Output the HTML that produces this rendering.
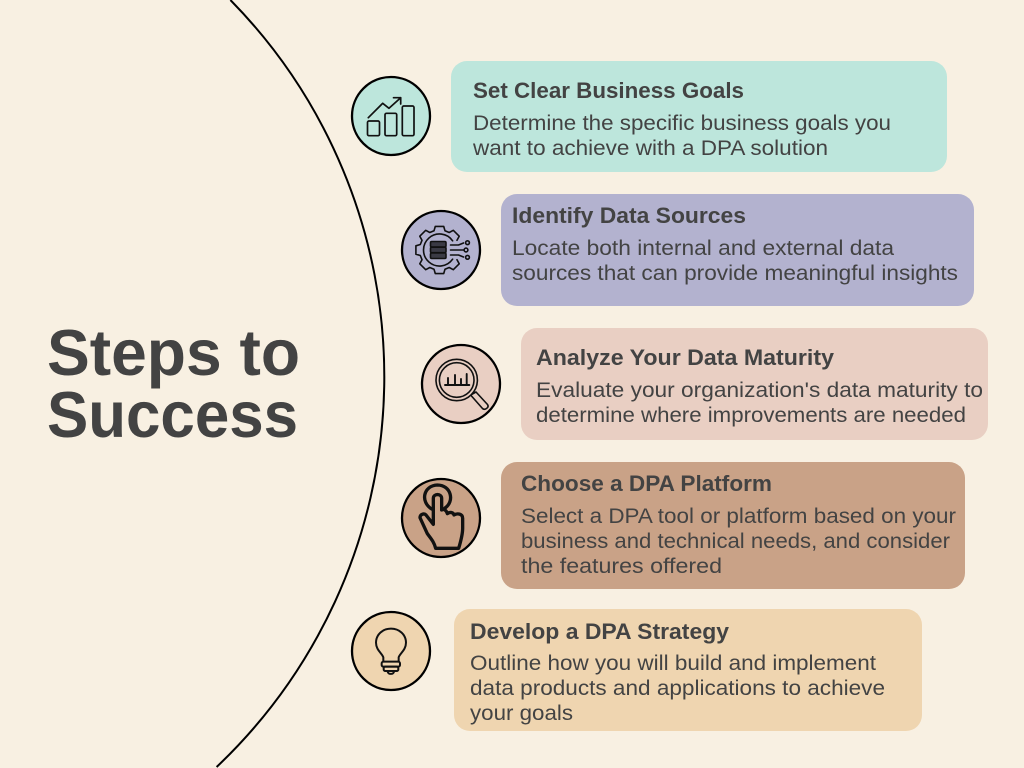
<!DOCTYPE html>
<html lang="en">
<head>
<meta charset="utf-8">
<title>Steps to Success</title>
<style>
html,body{margin:0;padding:0;width:1024px;height:768px;overflow:hidden;background:#F8F0E2}
svg{display:block;overflow:hidden}
text{font-family:"Liberation Sans",sans-serif;fill:#434343}
.h{font-size:22.5px;font-weight:700}
.b{font-size:21.5px}
.t{font-size:65px;font-weight:700}
.c{stroke:#000;stroke-width:2.3}
</style>
</head>
<body>
<svg width="1024" height="768" viewBox="0 0 1024 768" xmlns="http://www.w3.org/2000/svg">
<rect width="1024" height="768" fill="#F8F0E2"/>
<path d="M230.4 0A538 538 0 0 1 216.6 767" fill="none" stroke="#000" stroke-width="2"/>
<text class="t" x="47" y="375" textLength="253" lengthAdjust="spacingAndGlyphs">Steps to</text>
<text class="t" x="47" y="437" textLength="251" lengthAdjust="spacingAndGlyphs">Success</text>

<rect x="451" y="61" width="496" height="111" rx="16" fill="#BDE6DC"/>
<rect x="501" y="194" width="473" height="112" rx="16" fill="#B3B2CF"/>
<rect x="521" y="328" width="467" height="112" rx="16" fill="#E9CFC3"/>
<rect x="501" y="462" width="464" height="127" rx="16" fill="#C9A287"/>
<rect x="454" y="609" width="468" height="122" rx="16" fill="#EFD5B0"/>

<text class="h" x="473" y="98" textLength="271" lengthAdjust="spacingAndGlyphs">Set Clear Business Goals</text>
<text class="b" x="473" y="130" textLength="418" lengthAdjust="spacingAndGlyphs">Determine the specific business goals you</text>
<text class="b" x="473" y="155" textLength="355" lengthAdjust="spacingAndGlyphs">want to achieve with a DPA solution</text>

<text class="h" x="512" y="223" textLength="234" lengthAdjust="spacingAndGlyphs">Identify Data Sources</text>
<text class="b" x="512" y="255" textLength="382" lengthAdjust="spacingAndGlyphs">Locate both internal and external data</text>
<text class="b" x="512" y="280" textLength="446" lengthAdjust="spacingAndGlyphs">sources that can provide meaningful insights</text>

<text class="h" x="536" y="365" textLength="298" lengthAdjust="spacingAndGlyphs">Analyze Your Data Maturity</text>
<text class="b" x="536" y="397" textLength="447" lengthAdjust="spacingAndGlyphs">Evaluate your organization's data maturity to</text>
<text class="b" x="536" y="422" textLength="430" lengthAdjust="spacingAndGlyphs">determine where improvements are needed</text>

<text class="h" x="521" y="491" textLength="251" lengthAdjust="spacingAndGlyphs">Choose a DPA Platform</text>
<text class="b" x="521" y="523" textLength="435" lengthAdjust="spacingAndGlyphs">Select a DPA tool or platform based on your</text>
<text class="b" x="521" y="548" textLength="429" lengthAdjust="spacingAndGlyphs">business and technical needs, and consider</text>
<text class="b" x="521" y="573" textLength="201" lengthAdjust="spacingAndGlyphs">the features offered</text>

<text class="h" x="470" y="639" textLength="259" lengthAdjust="spacingAndGlyphs">Develop a DPA Strategy</text>
<text class="b" x="470" y="670" textLength="406" lengthAdjust="spacingAndGlyphs">Outline how you will build and implement</text>
<text class="b" x="470" y="695" textLength="415" lengthAdjust="spacingAndGlyphs">data products and applications to achieve</text>
<text class="b" x="470" y="720" textLength="103" lengthAdjust="spacingAndGlyphs">your goals</text>

<circle class="c" cx="391" cy="116" r="39" fill="#BDE6DC"/>
<circle class="c" cx="441" cy="250" r="39" fill="#B3B2CF"/>
<circle class="c" cx="461" cy="384" r="39" fill="#E9CFC3"/>
<circle class="c" cx="441" cy="518" r="39" fill="#C9A287"/>
<circle class="c" cx="391" cy="651" r="39" fill="#EFD5B0"/>

<!-- chart icon -->
<g fill="none" stroke="#111" stroke-width="1.7" stroke-linecap="round" stroke-linejoin="round">
<rect x="367.5" y="121" width="12" height="14.7" rx="1.5"/>
<rect x="385" y="113.3" width="11.7" height="22.4" rx="1.5"/>
<rect x="402.3" y="106" width="11.7" height="29.7" rx="1.5"/>
<path d="M368.3 117.7L382.7 103.3L389 108.3L400.7 97.7M393.5 97.7H400.7V104"/>
</g>

<!-- gear and data icon -->
<g transform="translate(439.5 250)" fill="none" stroke="#111" stroke-width="1.6" stroke-linecap="round" stroke-linejoin="round">
<polyline points="17.5,-9.7 19.7,-13.8 13.8,-19.7 9.7,-17.5 5.5,-19.2 4.2,-23.6 -4.2,-23.6 -5.5,-19.2 -9.7,-17.5 -13.8,-19.7 -19.7,-13.8 -17.5,-9.7 -19.2,-5.5 -23.6,-4.2 -23.6,4.2 -19.2,5.5 -17.5,9.7 -19.7,13.8 -13.8,19.7 -9.7,17.5 -5.5,19.2 -4.2,23.6 4.2,23.6 5.5,19.2 9.7,17.5 13.8,19.7 19.7,13.8 17.5,9.7"/>
<path d="M13.1-9.2A16 16 0 1 0 13.1 9.2"/>
<rect x="-9" y="-8.5" width="15.5" height="5.5" rx="1.2" fill="#3a3a44"/>
<rect x="-9" y="-2.8" width="15.5" height="5.5" rx="1.2" fill="#3a3a44"/>
<rect x="-9" y="3" width="15.5" height="5.5" rx="1.2" fill="#3a3a44"/>
<path d="M11-5H19L24-7M11 0H24M11 5H19L24 7"/>
<circle cx="28" cy="-7.3" r="1.9"/>
<circle cx="26.5" cy="0" r="1.9"/>
<circle cx="28" cy="7.3" r="1.9"/>
</g>

<!-- magnifier icon -->
<g fill="none" stroke="#111" stroke-width="1.6" stroke-linecap="round" stroke-linejoin="round">
<circle cx="456.7" cy="380" r="20.7"/>
<circle cx="456.7" cy="380" r="17.3"/>
<path d="M471.5 394.5L476 392L487.5 404.5C488.5 406 488 407.5 486.5 408.5C485 409.5 483.5 409.5 482.5 408.5L471.5 396"/>
<path d="M445 385H469.3M448 385V378M455 385V375M461 385V379M466.7 385V374" stroke-width="1.9"/>
</g>

<!-- pointing hand icon -->
<g transform="translate(390 335) scale(.3333)" fill="none" stroke="#111" stroke-width="10" stroke-linecap="round" stroke-linejoin="round">
<path d="M125 522C90 500 100 452 142 450C184 450 195 500 164 520"/>
<path d="M130 568V490C130 475 155 475 155 490V525C163 520 170 528 172 536C180 530 190 532 192 540C202 534 218 536 218 550V580C218 600 212 620 206 640H137C132 620 122 610 112 596L90 548C90 538 102 534 108 540Z"/>
</g>

<!-- light bulb icon -->
<g transform="translate(340 600) scale(.3333)" fill="none" stroke="#111" stroke-width="6" stroke-linecap="round" stroke-linejoin="round">
<path d="M130 185V172C126 160 108 150 108 128C108 104 128 86 153 86C178 86 198 104 198 128C198 150 180 160 176 172V185"/>
<rect x="125" y="185" width="55" height="15" rx="5"/>
<rect x="131" y="200" width="44" height="13" rx="5"/>
<path d="M143 215C145 224 160 224 162 215"/>
</g>
</svg>
</body>
</html>
